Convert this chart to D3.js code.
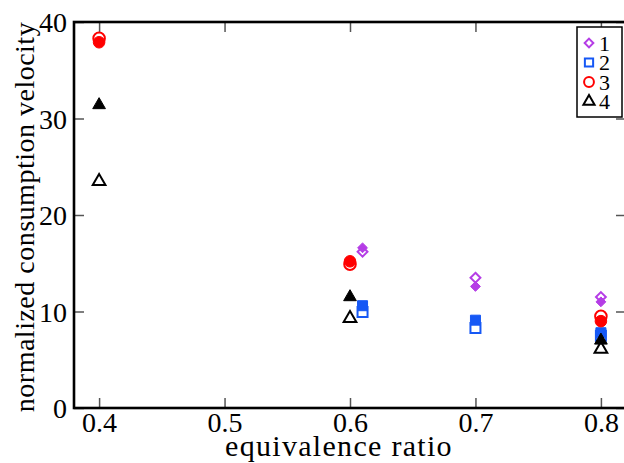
<!DOCTYPE html>
<html><head><meta charset="utf-8">
<script src="https://cdn.jsdelivr.net/npm/d3@7"></script>
<style>body{margin:0;background:#fff;}svg{display:block;}</style>
</head><body>
<svg id="c" width="624" height="463"></svg>
<script>
const xTicks = [0.4, 0.5, 0.6, 0.7, 0.8];
const yTicks = [0, 10, 20, 30, 40];
const seriesNames = ["1", "2", "3", "4"];
const seriesColors = ["#b53de6", "#1658f5", "#ff0000", "#000000"];
const seriesShapes = ["diamond", "square", "circle", "triangle"];
const s1X = [0.61, 0.7, 0.8];
const s1Open = [16.2, 13.5, 11.5];
const s1Filled = [16.6, 12.6, 11.0];
const s2X = [0.61, 0.7, 0.8];
const s2Open = [9.95, 8.3, 7.5];
const s2Filled = [10.6, 9.1, 7.8];
const s3X = [0.4, 0.6, 0.8];
const s3Open = [38.3, 14.9, 9.5];
const s3Filled = [37.9, 15.2, 9.0];
const s4X = [0.4, 0.6, 0.8];
const s4Open = [23.5, 9.3, 6.1];
const s4Filled = [31.4, 11.5, 7.0];

const seriesX = [s1X, s2X, s3X, s4X];
const seriesOpen = [s1Open, s2Open, s3Open, s4Open];
const seriesFilled = [s1Filled, s2Filled, s3Filled, s4Filled];

const svg = d3.select("#c");
const L = 74, R = 626, T = 22, B = 408;
const x = d3.scaleLinear().domain([0.38, 0.82]).range([L, R]);
const y = d3.scaleLinear().domain([0, 40]).range([B, T]);
const font = "'Liberation Serif', 'Times New Roman', serif";

function shape(name, big) {
  const types = {diamond: d3.symbolDiamond2, square: d3.symbolSquare, circle: d3.symbolCircle, triangle: d3.symbolTriangle};
  const sizes = big ? {diamond: 62, square: 100, circle: 105, triangle: 70}
                    : {diamond: 48, square: 68, circle: 76, triangle: 54};
  return d3.symbol().type(types[name]).size(sizes[name])();
}

// axes
const gx = svg.append("g").attr("transform", `translate(0,${B})`)
  .call(d3.axisBottom(x).tickValues(xTicks).tickFormat(d3.format(".1f")).tickSizeInner(-10).tickSizeOuter(0).tickPadding(4));
const gxt = svg.append("g").attr("transform", `translate(0,${T})`)
  .call(d3.axisTop(x).tickValues(xTicks).tickFormat("").tickSizeInner(-10).tickSizeOuter(0));
const gy = svg.append("g").attr("transform", `translate(${L},0)`)
  .call(d3.axisLeft(y).tickValues(yTicks).tickFormat(d3.format("d")).tickSizeInner(-10).tickSizeOuter(0).tickPadding(7));
const gyr = svg.append("g").attr("transform", `translate(${R},0)`)
  .call(d3.axisRight(y).tickValues(yTicks).tickFormat("").tickSizeInner(-10).tickSizeOuter(0));
[gx, gxt, gy, gyr].forEach(g => {
  g.select(".domain").remove();
  g.selectAll(".tick line").attr("stroke", "#555").attr("stroke-width", 1.5);
  g.selectAll("text").attr("font-family", font).attr("font-size", 28).attr("fill", "#000");
});
gy.selectAll("text").attr("dy", "0.34em");
svg.append("rect").attr("x", L).attr("y", T).attr("width", R - L).attr("height", B - T)
  .attr("fill", "none").attr("stroke", "#000").attr("stroke-width", 2.6);

// data
seriesNames.forEach((n, i) => {
  const g = svg.append("g");
  seriesX[i].forEach((xv, j) => {
    g.append("path").attr("d", shape(seriesShapes[i], true))
      .attr("transform", `translate(${x(xv)},${y(seriesFilled[i][j])})`)
      .attr("fill", seriesColors[i]).attr("stroke", seriesColors[i]).attr("stroke-width", 1);
    g.append("path").attr("d", shape(seriesShapes[i], true))
      .attr("transform", `translate(${x(xv)},${y(seriesOpen[i][j])})`)
      .attr("fill", "none").attr("stroke", seriesColors[i]).attr("stroke-width", 2);
  });
});

// legend
const lg = svg.append("g");
lg.append("rect").attr("x", 577).attr("y", 27).attr("width", 45).attr("height", 90)
  .attr("fill", "#fff").attr("stroke", "#000").attr("stroke-width", 1.5);
seriesNames.forEach((n, i) => {
  const cy = 43 + i * 19.5;
  lg.append("path").attr("d", shape(seriesShapes[i], false))
    .attr("transform", `translate(589,${cy})`)
    .attr("fill", "none").attr("stroke", seriesColors[i]).attr("stroke-width", 2);
  lg.append("text").attr("x", 599).attr("y", cy + 7.5).text(n)
    .attr("font-family", font).attr("font-size", 22).attr("fill", "#000");
});

// titles
svg.append("text").attr("x", 339).attr("y", 456).attr("text-anchor", "middle")
  .attr("font-family", font).attr("font-size", 30).attr("letter-spacing", 1.3).text("equivalence ratio");
svg.append("text").attr("transform", `translate(34,217) rotate(-90)`).attr("text-anchor", "middle")
  .attr("font-family", font).attr("font-size", 28).attr("letter-spacing", 0.5).text("normalized consumption velocity");
</script>
</body></html>
